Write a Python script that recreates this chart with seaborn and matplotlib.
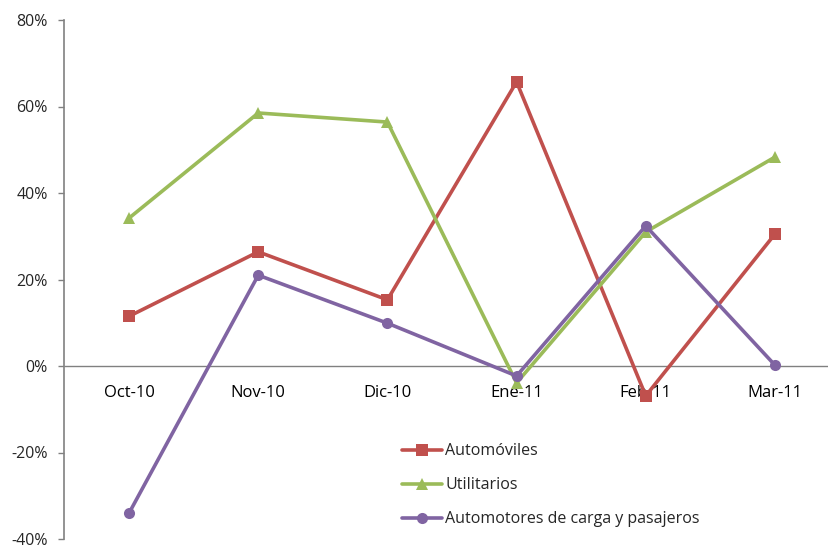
import matplotlib
matplotlib.use("Agg")
import matplotlib.pyplot as plt
import seaborn as sns
import pandas as pd
from matplotlib.ticker import FuncFormatter, FixedLocator

months = ["Oct-10", "Nov-10", "Dic-10", "Ene-11", "Feb-11", "Mar-11"]
automoviles = [11.5, 26.4, 15.3, 65.7, -6.9, 30.5]
utilitarios = [34.2, 58.5, 56.4, -3.9, 31.0, 48.3]
carga_pasajeros = [-34.0, 21.0, 9.9, -2.3, 32.4, 0.2]

series_names = ["Automóviles", "Utilitarios", "Automotores de carga y pasajeros"]
series_values = [automoviles, utilitarios, carga_pasajeros]
colors = ["#C0504D", "#9BBB59", "#8064A2"]
markers = ["s", "^", "o"]

sns.set_style("white")
plt.rcParams["font.family"] = ["Open Sans", "DejaVu Sans"]

fig = plt.figure(figsize=(8.29, 5.45), dpi=100)
ax = fig.add_axes([64.5 / 829, 1 - 539 / 545, (839.5 - 64.5) / 829, (539 - 20) / 545])

for name, vals, col, mk in zip(series_names, series_values, colors, markers):
    df = pd.DataFrame({"x": list(range(len(months))), "y": vals})
    sns.lineplot(data=df, x="x", y="y", ax=ax, color=col, marker=mk,
                 markersize=9 if mk != "o" else 8, markeredgewidth=0,
                 linewidth=2.6, label=name)

ax.set_xlim(-0.5, len(months) - 0.5)
ax.set_ylim(-40, 80)
ax.yaxis.set_major_locator(FixedLocator(range(-40, 81, 20)))
ax.yaxis.set_major_formatter(FuncFormatter(lambda v, p: f"{int(v)}%"))

ax.set_xticks(range(len(months)))
ax.set_xticklabels(months)
ax.set_xticks([i + 0.5 for i in range(len(months) - 1)], minor=True)
ax.tick_params(axis="x", which="major", length=0, pad=14, labelsize=12, colors="#000000")
ax.tick_params(axis="x", which="minor", length=4.5, width=1, color="#808080", direction="out")
ax.tick_params(axis="y", which="major", length=4.5, width=1, color="#808080",
               direction="out", left=True, labelsize=11.5, pad=7.5)

ax.set_xlabel("")
ax.set_ylabel("")
for s in ["top", "right"]:
    ax.spines[s].set_visible(False)
ax.spines["bottom"].set_position(("data", 0))
ax.spines["bottom"].set_color("#808080")
ax.spines["left"].set_color("#808080")
ax.spines["bottom"].set_linewidth(1)
ax.spines["left"].set_linewidth(1.2)
ax.spines["bottom"].set_zorder(0)

ax.legend(loc="upper left", bbox_to_anchor=(388 / 829, 1 - 429 / 545),
          bbox_transform=fig.transFigure, frameon=False, fontsize=11.5,
          handlelength=2.5, labelspacing=1.12, handletextpad=0.2)

fig.savefig("out.png", dpi=100)
